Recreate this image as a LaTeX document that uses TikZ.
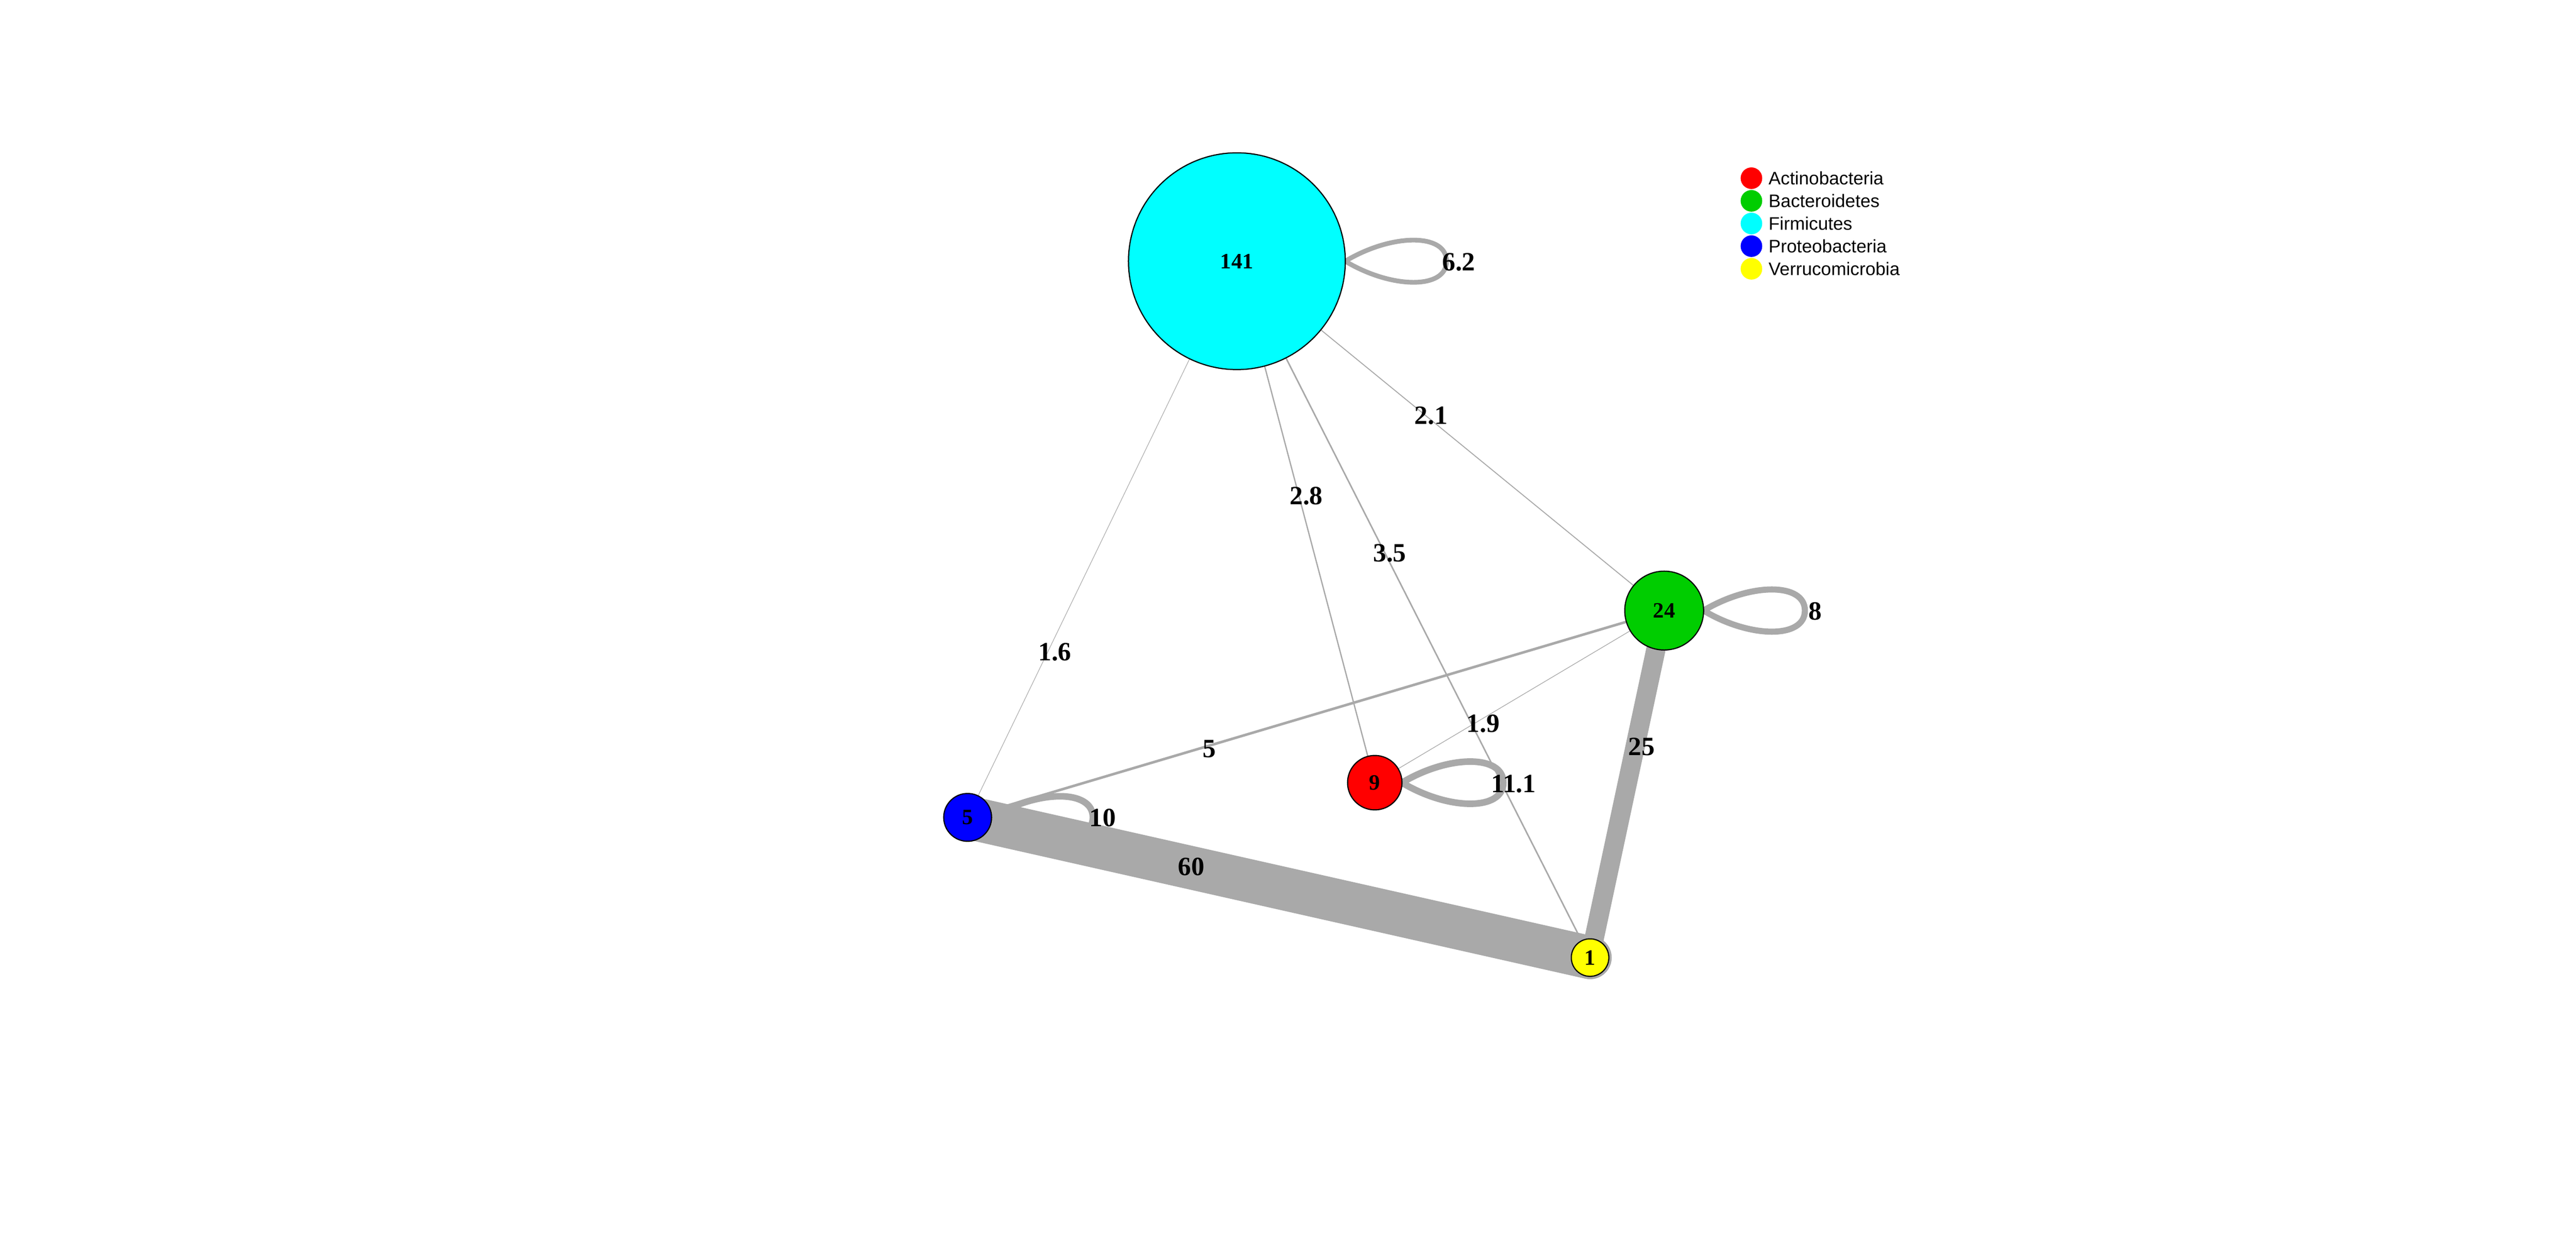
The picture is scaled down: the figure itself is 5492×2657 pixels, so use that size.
\documentclass[tikz,border=0pt]{standalone}
\usepackage{fontspec}
\setmainfont{Liberation Serif}
\newfontfamily\legendfont{Liberation Sans}
\usepackage{tikz}

\definecolor{edgegray}{RGB}{169,169,169}
\definecolor{actred}{RGB}{255,0,0}
\definecolor{bacgreen}{RGB}{0,205,0}
\definecolor{fircyan}{RGB}{0,255,255}
\definecolor{problue}{RGB}{0,0,255}
\definecolor{veryellow}{RGB}{255,255,0}

\begin{document}
\begin{tikzpicture}[x=0.01cm,y=-0.01cm,
  vertex/.style={draw,circle,line width=0.7pt,inner sep=0pt,font=\fontsize{13.3}{14}\selectfont\bfseries},
  edge/.style={edgegray,line cap=round},
  elabel/.style={inner sep=0pt,font=\fontsize{16}{17}\selectfont\bfseries},
  legkey/.style={circle,inner sep=0pt,minimum size=0.46cm},
  legtext/.style={inner sep=0pt,anchor=base west,font=\legendfont\fontsize{11}{12}\selectfont}]

\fill[white] (0,0) rectangle (5492,2657);
\useasboundingbox (0,0) rectangle (5492,2657);

% vertex centres
\coordinate (c141) at (2637,557);
\coordinate (c24) at (3548,1302);
\coordinate (c9) at (2931,1669);
\coordinate (c5) at (2063,1743);
\coordinate (c1) at (3390,2042);

% self loops
\foreach \v/\r/\w in {141/231/2.85, 24/84/3.7, 9/58/4, 5/51/4}
	{
	\draw [edge,line width=\w pt] (c\v) ++(\r,0)
		.. controls +(100,-60) and +(0,-60) .. ++(216,0)
		.. controls +(0,60) and +(100,60) .. ++(-216,0);
	}

% edges
\draw [edge,line width=0.35pt] (c141) -- (c5);
\draw [edge,line width=0.57pt] (c141) -- (c24);
\draw [edge,line width=0.77pt] (c141) -- (c9);
\draw [edge,line width=0.9pt] (c141) -- (c1);
\draw [edge,line width=0.4pt] (c24) -- (c9);
\draw [edge,line width=1.55pt] (c5) -- (c24);
\draw [edge,line width=11.7pt] (c24) -- (c1);
\draw [edge,line width=26.2pt] (c5) -- (c1);

% edge labels
\node [elabel] (w62) at (3110,559) {6.2};
\node [elabel] (w21) at (3051,886) {2.1};
\node [elabel] (w28) at (2785,1058) {2.8};
\node [elabel] (w35) at (2963,1180) {3.5};
\node [elabel] (w16) at (2249,1390) {1.6};
\node [elabel] (w8) at (3870,1303) {8};
\node [elabel] (w25) at (3500,1592) {25};
\node [elabel] (w19) at (3162,1543) {1.9};
\node [elabel] (w5) at (2578,1597) {5};
\node [elabel] (w111) at (3227,1672) {11.1};
\node [elabel] (w10) at (2351,1744) {10};
\node [elabel] (w60) at (2540,1848) {60};

% vertices
\node [vertex,fill=fircyan,minimum size=4.62cm] (v141) at (c141) {141};
\node [vertex,fill=bacgreen,minimum size=1.68cm] (v24) at (c24) {24};
\node [vertex,fill=actred,minimum size=1.16cm] (v9) at (c9) {9};
\node [vertex,fill=problue,minimum size=1.02cm] (v5) at (c5) {5};
\node [vertex,fill=veryellow,minimum size=0.8cm] (v1) at (c1) {1};

% legend
\foreach \col/\phylum [count=\i] in {actred/Actinobacteria, bacgreen/Bacteroidetes, fircyan/Firmicutes, problue/Proteobacteria, veryellow/Verrucomicrobia}
	{
	\node [legkey,fill=\col] (key\i) at (3734,{380+48.3*(\i-1)}) {};
	\node [legtext] (phy\i) at (3770,{394+48.3*(\i-1)}) {\phylum};
	}
\end{tikzpicture}
\end{document}
